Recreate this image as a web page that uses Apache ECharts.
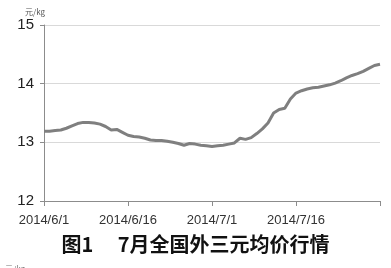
<!DOCTYPE html>
<html><head><meta charset="utf-8">
<script src="https://cdn.jsdelivr.net/npm/echarts@6/dist/echarts.min.js"></script>
<style>html,body{margin:0;padding:0;background:#fff}#c{width:391px;height:268px}</style>
</head><body><div id="c"></div>
<script>
var dates = [
 "2014/6/1","2014/6/2","2014/6/3","2014/6/4","2014/6/5","2014/6/6","2014/6/7","2014/6/8","2014/6/9","2014/6/10",
 "2014/6/11","2014/6/12","2014/6/13","2014/6/14","2014/6/15","2014/6/16","2014/6/17","2014/6/18","2014/6/19","2014/6/20",
 "2014/6/21","2014/6/22","2014/6/23","2014/6/24","2014/6/25","2014/6/26","2014/6/27","2014/6/28","2014/6/29","2014/6/30",
 "2014/7/1","2014/7/2","2014/7/3","2014/7/4","2014/7/5","2014/7/6","2014/7/7","2014/7/8","2014/7/9","2014/7/10",
 "2014/7/11","2014/7/12","2014/7/13","2014/7/14","2014/7/15","2014/7/16","2014/7/17","2014/7/18","2014/7/19","2014/7/20",
 "2014/7/21","2014/7/22","2014/7/23","2014/7/24","2014/7/25","2014/7/26","2014/7/27","2014/7/28","2014/7/29","2014/7/30",
 "2014/7/31"
];
var prices = [
 13.19,13.19,13.20,13.21,13.24,13.28,13.32,13.34,13.34,13.33,
 13.31,13.27,13.21,13.22,13.17,13.12,13.10,13.09,13.07,13.04,
 13.03,13.03,13.02,13.00,12.98,12.95,12.98,12.97,12.95,12.94,
 12.93,12.94,12.95,12.97,12.99,13.07,13.05,13.08,13.15,13.23,
 13.33,13.50,13.56,13.58,13.74,13.84,13.88,13.91,13.93,13.94,
 13.96,13.98,14.01,14.05,14.10,14.14,14.17,14.21,14.26,14.31,
 14.33
];
var yMin = 12, yMax = 15, yStep = 1;
var unitLabel = "元/kg";
var caption = "图1\u3000 7月全国外三元均价行情";

var chart = echarts.init(document.getElementById('c'), null, {renderer:'canvas'});
chart.setOption({
  animation:false,
  backgroundColor:'#fff',
  grid:{left:44,right:11,top:25,bottom:67},
  title:[
    {text:unitLabel,left:20,top:3,textStyle:{fontSize:8,fontWeight:'normal',color:'#555',fontFamily:'Noto Sans CJK SC'}},
    {text:caption,left:'center',top:229,textStyle:{fontSize:20,fontWeight:'bold',color:'#111',fontFamily:'Noto Sans CJK SC'}},
    {text:unitLabel,left:0,top:260,textStyle:{fontSize:8,fontWeight:'normal',color:'#777',fontFamily:'Noto Sans CJK SC'}}
  ],
  xAxis:{
    type:'category',data:dates,boundaryGap:false,
    axisLine:{lineStyle:{color:'#8c8c8c',width:1}},
    axisTick:{interval:14,length:5,lineStyle:{color:'#8c8c8c'}},
    axisLabel:{interval:14,color:'#333',fontSize:13,margin:13,fontFamily:'Liberation Sans',
      formatter:function(v,i){return i===dates.length-1?'':v;}},
    splitLine:{show:false}
  },
  yAxis:{
    type:'value',min:yMin,max:yMax,interval:yStep,
    axisLine:{show:true,lineStyle:{color:'#8c8c8c',width:1}},
    axisTick:{show:true,length:4,lineStyle:{color:'#8c8c8c'}},
    axisLabel:{color:'#222',fontSize:15,margin:10,fontFamily:'Liberation Sans'},
    splitLine:{lineStyle:{color:'#d9d9d9',width:1}}
  },
  series:[{
    type:'line',data:prices,showSymbol:false,smooth:false,
    lineStyle:{color:'#7f7f7f',width:3},itemStyle:{color:'#7f7f7f'}
  }]
});
</script></body></html>
